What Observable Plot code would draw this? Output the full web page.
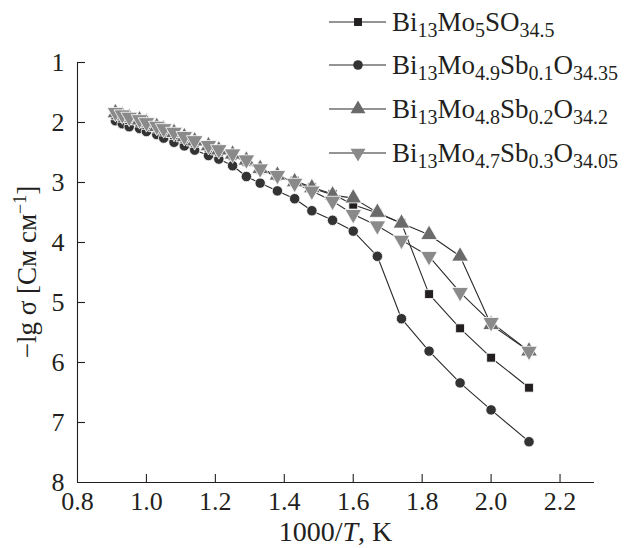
<!DOCTYPE html>
<html>
<head>
<meta charset="utf-8">
<script src="https://cdn.jsdelivr.net/npm/d3@7"></script>
<script src="https://cdn.jsdelivr.net/npm/@observablehq/plot@0.6"></script>
<style>
  html, body { margin: 0; padding: 0; background: #fff; }
  #chart { width: 630px; height: 548px; }
  svg text { font-family: "Liberation Serif", "Times New Roman", Times, serif; }
</style>
</head>
<body>
<div id="chart"></div>
<script>
// ---- data ----
const xs = [0.91, 0.93, 0.95, 0.98, 1.00, 1.03, 1.05, 1.08, 1.11, 1.14, 1.18, 1.21, 1.25,
            1.29, 1.33, 1.38, 1.43, 1.48, 1.54, 1.60, 1.67, 1.74, 1.82, 1.91, 2.00, 2.11];

const seriesNames = [
  "Bi_{13}Mo_{5}SO_{34.5}",
  "Bi_{13}Mo_{4.9}Sb_{0.1}O_{34.35}",
  "Bi_{13}Mo_{4.8}Sb_{0.2}O_{34.2}",
  "Bi_{13}Mo_{4.7}Sb_{0.3}O_{34.05}"
];

const sSquare = [1.88, 1.92, 1.96, 2.00, 2.04, 2.10, 2.15, 2.21, 2.27, 2.34, 2.42, 2.49, 2.56,
                 2.66, 2.79, 2.90, 2.97, 3.08, 3.19, 3.37, 3.51, 3.68, 4.86, 5.43, 5.92, 6.42];
const sCircle = [1.97, 2.02, 2.07, 2.10, 2.15, 2.20, 2.26, 2.33, 2.39, 2.46, 2.55, 2.61, 2.72,
                 2.90, 3.01, 3.14, 3.27, 3.47, 3.63, 3.81, 4.23, 5.27, 5.81, 6.34, 6.79, 7.32];
const sTriUp  = [1.84, 1.88, 1.92, 1.96, 2.00, 2.07, 2.11, 2.17, 2.24, 2.31, 2.39, 2.46, 2.53,
                 2.63, 2.77, 2.88, 2.99, 3.09, 3.21, 3.26, 3.50, 3.68, 3.87, 4.23, 5.37, 5.81];
const sTriDn  = [1.83, 1.87, 1.91, 1.95, 2.00, 2.06, 2.10, 2.16, 2.23, 2.30, 2.38, 2.45, 2.52,
                 2.62, 2.77, 2.88, 3.01, 3.14, 3.31, 3.53, 3.72, 3.96, 4.23, 4.83, 5.33, 5.81];

const xTicks = [0.8, 1.0, 1.2, 1.4, 1.6, 1.8, 2.0, 2.2];
const yTicks = [1, 2, 3, 4, 5, 6, 7, 8];

// ---- styling ----
const ink = "#231f20";
const font = "Liberation Serif, Times New Roman, Times, serif";
const triDown = {
  draw(context, size) {
    const y = -Math.sqrt(size / (Math.sqrt(3) * 3));
    const s3 = Math.sqrt(3);
    context.moveTo(0, -y * 2);
    context.lineTo(-s3 * y, y);
    context.lineTo(s3 * y, y);
    context.closePath();
  }
};
const styles = [
  {symbol: "square",   fill: "#231f20", r: 5.0},
  {symbol: "circle",   fill: "#333333", r: 5.2},
  {symbol: "triangle", fill: "#6a6a6a", r: 6.2},
  {symbol: triDown,    fill: "#8a8a8a", r: 6.2}
];
const values = [sSquare, sCircle, sTriUp, sTriDn];
const drawOrder = [1, 0, 2, 3];

const rows = values.map((vals, i) => xs.map((x, j) => ({x, y: vals[j], s: i})));

const W = 630, H = 548;
const mL = 77, mR = 36, mT = 62, mB = 66;

const marks = [
  Plot.ruleX([0.8], {stroke: ink, strokeWidth: 1.1}),
  Plot.ruleY([8], {stroke: ink, strokeWidth: 1.1}),
  Plot.ruleX(xTicks.slice(1), {x: d => d, y1: 8, y2: 8 - 8 / 60, stroke: ink, strokeWidth: 1.1}),
  Plot.ruleY(yTicks.slice(0, -1), {y: d => d, x1: 0.8, x2: 0.8 + 8 / 345, stroke: ink, strokeWidth: 1.1}),
  Plot.axisX({ticks: xTicks, tickSize: 0, tickPadding: 9, tickFormat: d3.format(".1f"), label: null,
              fontSize: 26, fill: ink, fontFamily: font}),
  Plot.axisY({ticks: yTicks, tickSize: 0, tickPadding: 13, tickFormat: d3.format("d"), label: null,
              fontSize: 26, fill: ink, fontFamily: font})
];
for (const i of drawOrder) {
  marks.push(Plot.line(rows[i], {x: "x", y: "y", stroke: "#2b2b2b", strokeWidth: 1.1}));
}
for (const i of drawOrder) {
  const st = styles[i];
  marks.push(Plot.dot(rows[i], {x: "x", y: "y", symbol: st.symbol, r: st.r, fill: st.fill,
                                stroke: "#ffffff", strokeWidth: 0.8}));
}

const svgNode = Plot.plot({
  width: W, height: H,
  marginLeft: mL, marginRight: mR, marginTop: mT, marginBottom: mB,
  x: {domain: [0.8, 2.3]},
  y: {domain: [1, 8], reverse: true},
  style: {fontFamily: font, background: "#fff", color: ink, overflow: "visible"},
  marks
});
document.getElementById("chart").appendChild(svgNode);

const svg = d3.select(svgNode);

// axis titles
const xt = svg.append("text")
  .attr("x", (mL + W - mR) / 2).attr("y", 541)
  .attr("text-anchor", "middle").attr("font-family", font).attr("font-size", 28).attr("fill", ink);
xt.append("tspan").text("1000/");
xt.append("tspan").attr("font-style", "italic").text("T");
xt.append("tspan").text(", K");

const yt = svg.append("text")
  .attr("transform", `translate(36,${(mT + H - mB) / 2}) rotate(-90)`)
  .attr("text-anchor", "middle").attr("font-family", font).attr("font-size", 27).attr("fill", ink);
yt.append("tspan").text("−lg σ [См см");
yt.append("tspan").attr("font-size", 18).attr("dy", -10).text("−1");
yt.append("tspan").attr("dy", 10).text("]");

// legend
const legY = [22, 65, 109, 153];
const lg = svg.append("g").attr("text-anchor", "start");
seriesNames.forEach((name, i) => {
  const y = legY[i];
  lg.append("line").attr("x1", 329).attr("x2", 386).attr("y1", y).attr("y2", y)
    .attr("stroke", "#2b2b2b").attr("stroke-width", 1.1);
  const st = styles[i];
  const sym = typeof st.symbol === "string"
    ? {square: d3.symbolSquare, circle: d3.symbolCircle, triangle: d3.symbolTriangle}[st.symbol]
    : st.symbol;
  lg.append("path").attr("transform", `translate(358,${y})`)
    .attr("d", d3.symbol(sym, Math.PI * st.r * st.r * (i === 1 ? 0.85 : 0.8))())
    .attr("fill", st.fill);
  const t = lg.append("text").attr("x", 392).attr("y", y + 9).attr("text-anchor", "start")
    .attr("font-family", font).attr("font-size", 27).attr("fill", ink);
  const parts = name.split(/(_\{[^}]*\})/).filter(p => p.length);
  let sub = false;
  parts.forEach(p => {
    if (p.startsWith("_{")) {
      t.append("tspan").attr("font-size", 20).attr("dy", 6).text(p.slice(2, -1));
      sub = true;
    } else {
      t.append("tspan").attr("dy", sub ? -6 : 0).text(p);
      sub = false;
    }
  });
});
</script>
</body>
</html>
